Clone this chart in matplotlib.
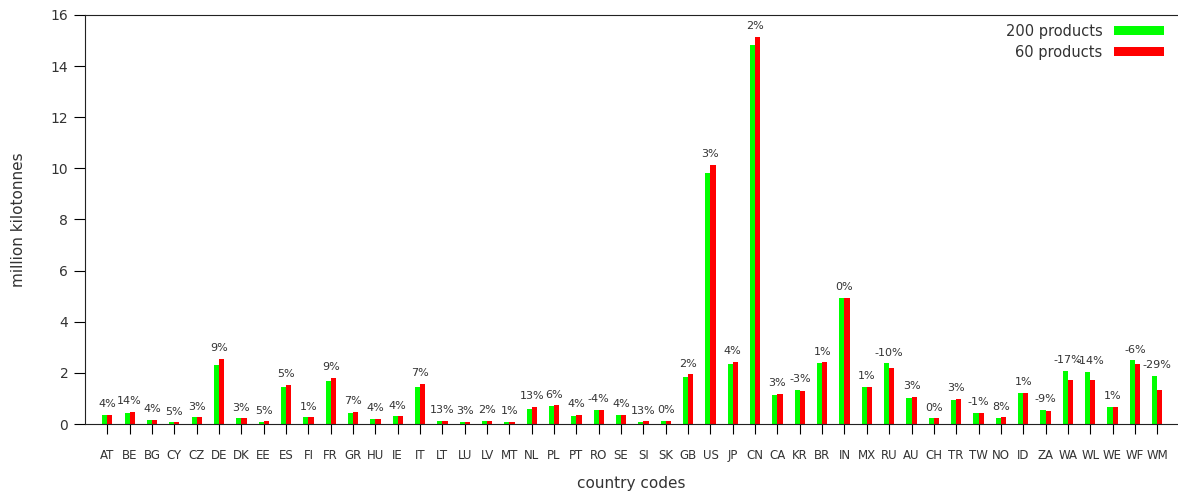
import numpy as np
import matplotlib
matplotlib.use("Agg")
import matplotlib.pyplot as plt

#===============================================================#
## data
countries = ["AT", "BE", "BG", "CY", "CZ", "DE", "DK", "EE", "ES", "FI", "FR", "GR",
             "HU", "IE", "IT", "LT", "LU", "LV", "MT", "NL", "PL", "PT", "RO", "SE",
             "SI", "SK", "GB", "US", "JP", "CN", "CA", "KR", "BR", "IN", "MX", "RU",
             "AU", "CH", "TR", "TW", "NO", "ID", "ZA", "WA", "WL", "WE", "WF", "WM"]

products_200 = [0.34, 0.43, 0.15, 0.07, 0.26, 2.32, 0.22, 0.08, 1.45, 0.26, 1.69, 0.43,
                0.19, 0.30, 1.45, 0.11, 0.07, 0.11, 0.07, 0.59, 0.70, 0.31, 0.55, 0.34,
                0.09, 0.12, 1.85, 9.82, 2.36, 14.83, 1.13, 1.33, 2.40, 4.93, 1.45, 2.37,
                1.03, 0.22, 0.95, 0.43, 0.22, 1.22, 0.55, 2.09, 2.05, 0.66, 2.49, 1.89]

products_60 = [0.35, 0.47, 0.16, 0.07, 0.27, 2.55, 0.23, 0.11, 1.54, 0.26, 1.81, 0.47,
               0.20, 0.31, 1.58, 0.12, 0.08, 0.12, 0.08, 0.67, 0.74, 0.35, 0.54, 0.35,
               0.10, 0.12, 1.94, 10.13, 2.44, 15.14, 1.19, 1.29, 2.41, 4.93, 1.46, 2.18,
               1.07, 0.22, 0.99, 0.43, 0.26, 1.22, 0.51, 1.72, 1.72, 0.67, 2.34, 1.33]

diff_labels = ["4%", "14%", "4%", "5%", "3%", "9%", "3%", "5%", "5%", "1%", "9%", "7%",
               "4%", "4%", "7%", "13%", "3%", "2%", "1%", "13%", "6%", "4%", "-4%", "4%",
               "13%", "0%", "2%", "3%", "4%", "2%", "3%", "-3%", "1%", "0%", "1%", "-10%",
               "3%", "0%", "3%", "-1%", "8%", "1%", "-9%", "-17%", "-14%", "1%", "-6%", "-29%"]

#===============================================================#

txt_col = "#333333"
xs = np.arange(1, len(countries) + 1)
w = 0.23

fig = plt.figure(figsize=(11.78, 4.98), dpi=100)
ax = fig.add_axes([85 / 1178, 74 / 498, 1 - 85 / 1178, 409 / 498])

ax.bar(xs - w / 2, products_200, width=w, color="#00ff00", label="200 products")
ax.bar(xs + w / 2, products_60, width=w, color="#ff0000", label="60 products")

## percent labels above each pair (WA / WL overlap in the original too)
for x, g, r, lab in zip(xs, products_200, products_60, diff_labels):
    ax.annotate(lab, (x, max(g, r)), xytext=(0, 4), textcoords="offset points",
                ha="center", va="bottom", fontsize=8, color=txt_col)

ax.set_xlim(0, 48.93)
ax.set_ylim(0, 16)
ax.set_yticks(range(0, 17, 2))
ax.set_xticks(xs)
ax.set_xticklabels(countries)
ax.tick_params(axis="x", direction="out", length=7, pad=11, labelsize=8.5, colors="black", labelcolor=txt_col)
ax.tick_params(axis="y", direction="out", length=8, pad=4, labelsize=10, colors="black", labelcolor=txt_col)

for s in ["left", "bottom", "top"]:
    ax.spines[s].set_color("#222222")
ax.spines["right"].set_visible(False)

ax.set_ylabel("million kilotonnes", fontsize=11, color=txt_col, labelpad=18)
ax.set_xlabel("country codes", fontsize=11, color=txt_col, labelpad=10)

leg = ax.legend(loc="upper right", frameon=False, markerfirst=False, fontsize=10.5,
                handlelength=3.4, handleheight=0.6, labelspacing=0.4,
                borderaxespad=0.2, bbox_to_anchor=(0.995, 1.0))
for t in leg.get_texts():
    t.set_color(txt_col)

fig.savefig("out.png", dpi=100)
